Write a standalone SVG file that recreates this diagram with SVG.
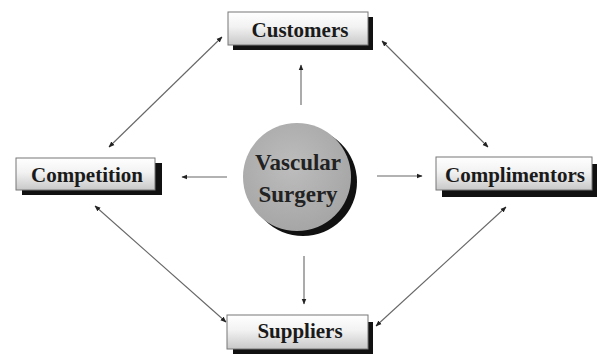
<svg xmlns="http://www.w3.org/2000/svg" width="597" height="354" viewBox="0 0 597 354">
<defs>
<linearGradient id="boxg" x1="0" y1="0" x2="0" y2="1">
<stop offset="0" stop-color="#ffffff"/>
<stop offset="0.45" stop-color="#f2f2f2"/>
<stop offset="1" stop-color="#c8c8c8"/>
</linearGradient>
<radialGradient id="circg" cx="0.45" cy="0.4" r="0.6">
<stop offset="0" stop-color="#bdbdbd"/>
<stop offset="1" stop-color="#a6a6a6"/>
</radialGradient>
<marker id="ah" viewBox="0 0 10 10" refX="9" refY="5" markerWidth="6" markerHeight="6" orient="auto-start-reverse" markerUnits="userSpaceOnUse">
<path d="M0,1 L10,5 L0,9 z" fill="#222"/>
</marker>
<style>
.shadow{fill:#111}
.box{fill:url(#boxg);stroke:#777;stroke-width:1}
.lbl{font-family:"Liberation Serif","Times New Roman",serif;font-weight:bold;font-size:21px;fill:#1a1a1a;text-anchor:middle}
.ctr{font-family:"Liberation Serif","Times New Roman",serif;font-weight:bold;font-size:23px;fill:#222;text-anchor:middle}
.conn line{stroke:#666;stroke-width:1.1}
</style>
</defs>
<rect width="597" height="354" fill="#ffffff"/>
<g id="connectors" class="conn">
<line x1="301" y1="105" x2="301" y2="65" marker-end="url(#ah)"/>
<line x1="227" y1="177" x2="182" y2="177" marker-end="url(#ah)"/>
<line x1="377" y1="176" x2="422" y2="176" marker-end="url(#ah)"/>
<line x1="304" y1="256" x2="304" y2="304" marker-end="url(#ah)"/>
<line x1="222" y1="37" x2="109" y2="147" marker-start="url(#ah)" marker-end="url(#ah)"/>
<line x1="382" y1="41" x2="488" y2="147" marker-start="url(#ah)" marker-end="url(#ah)"/>
<line x1="95" y1="206" x2="226" y2="322" marker-start="url(#ah)" marker-end="url(#ah)"/>
<line x1="506" y1="207" x2="376" y2="326" marker-start="url(#ah)" marker-end="url(#ah)"/>
</g>
<g id="customers">
<rect class="shadow" x="233" y="17" width="140" height="33"/>
<rect class="box" x="228" y="12" width="140" height="33"/>
<text class="lbl" x="300" y="37">Customers</text>
</g>
<g id="competition">
<rect class="shadow" x="22" y="163" width="140" height="32"/>
<rect class="box" x="16" y="158" width="139" height="32"/>
<text class="lbl" x="87" y="182">Competition</text>
</g>
<g id="complimentors">
<rect class="shadow" x="442" y="164" width="155" height="33"/>
<rect class="box" x="436" y="157" width="156" height="33"/>
<text class="lbl" x="515" y="182">Complimentors</text>
</g>
<g id="suppliers">
<rect class="shadow" x="233" y="322" width="140" height="34"/>
<rect class="box" x="227" y="315" width="141" height="34"/>
<text class="lbl" x="300" y="338">Suppliers</text>
</g>
<g id="vascular-surgery">
<circle cx="303" cy="182" r="54" fill="#111"/>
<circle cx="297" cy="177" r="54" fill="url(#circg)"/>
<text class="ctr" x="298" y="170">Vascular</text>
<text class="ctr" x="298" y="202">Surgery</text>
</g>
</svg>
